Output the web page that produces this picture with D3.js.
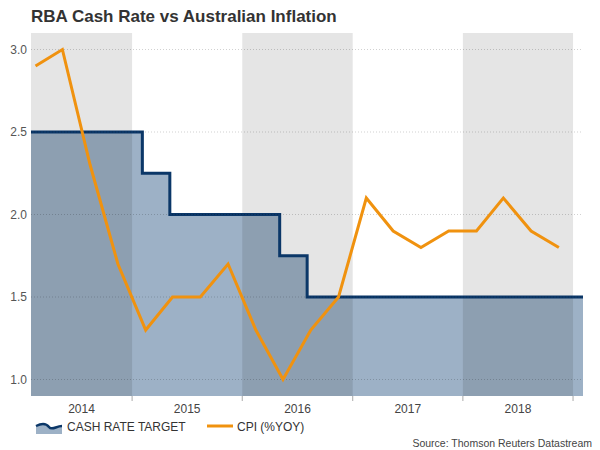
<!DOCTYPE html>
<html>
<head>
<meta charset="utf-8">
<script src="https://cdn.jsdelivr.net/npm/d3@7"></script>
<style>
  body { margin: 0; background: #fff; }
  svg { font-family: "Liberation Sans", Arial, sans-serif; }
</style>
</head>
<body>
<svg id="chart" width="600" height="450"></svg>
<script>
// данные CPI (квартальные, %г/г)
const cpiDates = ["2014-02-15", "2014-05-15", "2014-08-15", "2014-11-15",
    "2015-02-15", "2015-05-15", "2015-08-15", "2015-11-15",
    "2016-02-15", "2016-05-15", "2016-08-15", "2016-11-15",
    "2017-02-15", "2017-05-15", "2017-08-15", "2017-11-15",
    "2018-02-15", "2018-05-15", "2018-08-15", "2018-11-15"];
const cpiValues = [2.9, 3.0, 2.3, 1.7, 1.3, 1.5, 1.5, 1.7, 1.3, 1.0,
    1.3, 1.5, 2.1, 1.9, 1.8, 1.9, 1.9, 2.1, 1.9, 1.8];

// ставка RBA (даты изменений)
const cashDates = ["2013-08-07", "2015-02-04", "2015-05-06", "2016-05-04", "2016-08-03", "2019-03-01"];
const cashValues = [2.5, 2.25, 2.0, 1.75, 1.5, 1.5];

const years = [2014, 2015, 2016, 2017, 2018];
const shadedYears = [2014, 2016, 2018];
const yTicks = [1.0, 1.5, 2.0, 2.5, 3.0];

const parse = d3.timeParse("%Y-%m-%d");
const cpi = cpiDates.map((d, i) => ({ date: parse(d), value: cpiValues[i] }));
const cash = cashDates.map((d, i) => ({ date: parse(d), value: cashValues[i] }));

let svg = d3.select("#chart");
let pLeft = 31, pRight = 583, pTop = 33, pBottom = 396;

let scaleX = d3.scaleTime()
    .domain([parse("2014-01-31"), parse("2019-02-03")])
    .range([pLeft, pRight]);
let scaleY = d3.scaleLinear()
    .domain([0.9, 3.1])
    .range([pBottom, pTop]);

// заголовок
svg.append("text")
    .attr("x", 31)
    .attr("y", 22)
    .style("font-size", "17px")
    .style("font-weight", "bold")
    .style("fill", "#333")
    .text("RBA Cash Rate vs Australian Inflation");

svg.append("clipPath").attr("id", "clip")
    .append("rect")
    .attr("x", pLeft).attr("y", pTop)
    .attr("width", pRight - pLeft).attr("height", pBottom - pTop);

let plot = svg.append("g").attr("clip-path", "url(#clip)");

// область ставки
let area = d3.area()
    .curve(d3.curveStepAfter)
    .x(d => scaleX(d.date))
    .y0(pBottom)
    .y1(d => scaleY(d.value));
plot.append("path")
    .datum(cash)
    .attr("d", area)
    .style("fill", "#9db1c6");

// серые полосы по годам
plot.selectAll(".band")
    .data(shadedYears)
    .enter()
    .append("rect")
    .attr("x", d => scaleX(new Date(d, 0, 1)))
    .attr("y", pTop)
    .attr("width", d => scaleX(new Date(d + 1, 0, 1)) - scaleX(new Date(d, 0, 1)))
    .attr("height", pBottom - pTop)
    .style("fill", "rgba(0,0,0,0.1)");

// горизонтальная сетка
svg.selectAll(".grid")
    .data(yTicks)
    .enter()
    .append("line")
    .attr("x1", pLeft)
    .attr("x2", pRight)
    .attr("y1", d => scaleY(d))
    .attr("y2", d => scaleY(d))
    .style("stroke", "rgba(0,0,0,0.18)")
    .style("stroke-dasharray", "1,2")
    .style("stroke-width", 1);

// подписи оси OY
svg.selectAll(".ylab")
    .data(yTicks)
    .enter()
    .append("text")
    .attr("x", 27)
    .attr("y", d => scaleY(d) + 4)
    .attr("text-anchor", "end")
    .style("font-size", "12px")
    .style("fill", "#555")
    .text(d => d.toFixed(1));

// линия ставки
let line = d3.line()
    .curve(d3.curveStepAfter)
    .x(d => scaleX(d.date))
    .y(d => scaleY(d.value));
plot.append("path")
    .datum(cash)
    .attr("d", line)
    .style("fill", "none")
    .style("stroke", "#0b3768")
    .style("stroke-width", 3);

// линия CPI
let cpiLine = d3.line()
    .x(d => scaleX(d.date))
    .y(d => scaleY(d.value));
svg.append("path")
    .datum(cpi)
    .attr("d", cpiLine)
    .style("fill", "none")
    .style("stroke", "#f0920f")
    .style("stroke-width", 3)
    .style("stroke-linejoin", "miter");

// ось OX: деления на границах лет
svg.selectAll(".xtick")
    .data(years)
    .enter()
    .append("line")
    .attr("x1", d => scaleX(new Date(d + 1, 0, 1)))
    .attr("x2", d => scaleX(new Date(d + 1, 0, 1)))
    .attr("y1", pBottom)
    .attr("y2", pBottom + 5)
    .style("stroke", "#aaa");

svg.selectAll(".xlab")
    .data(years)
    .enter()
    .append("text")
    .attr("x", d => {
        let a = Math.max(scaleX(new Date(d, 0, 1)), pLeft);
        let b = Math.min(scaleX(new Date(d + 1, 0, 1)), pRight);
        return (a + b) / 2;
    })
    .attr("y", 413)
    .attr("text-anchor", "middle")
    .style("font-size", "12px")
    .style("fill", "#444")
    .text(d => d);

// легенда
let lg = svg.append("g");
lg.append("path")
    .attr("d", "M36,426 C42,423 46,423 49,427 C52,431 56,426 62,426 L62,434 L36,434 Z")
    .style("fill", "#9db1c6");
lg.append("path")
    .attr("d", "M36,426 C42,423 46,423 49,427 C52,431 56,426 62,426")
    .style("fill", "none")
    .style("stroke", "#0b3768")
    .style("stroke-width", 2.5);
lg.append("text")
    .attr("x", 67)
    .attr("y", 431)
    .style("font-size", "12px")
    .style("fill", "#333")
    .text("CASH RATE TARGET");
lg.append("line")
    .attr("x1", 207).attr("x2", 233)
    .attr("y1", 426).attr("y2", 426)
    .style("stroke", "#f0920f")
    .style("stroke-width", 3);
lg.append("text")
    .attr("x", 237)
    .attr("y", 431)
    .style("font-size", "12px")
    .style("fill", "#333")
    .text("CPI (%YOY)");

// источник
svg.append("text")
    .attr("x", 592)
    .attr("y", 447)
    .attr("text-anchor", "end")
    .style("font-size", "10.5px")
    .style("fill", "#444")
    .text("Source: Thomson Reuters Datastream");
</script>
</body>
</html>
